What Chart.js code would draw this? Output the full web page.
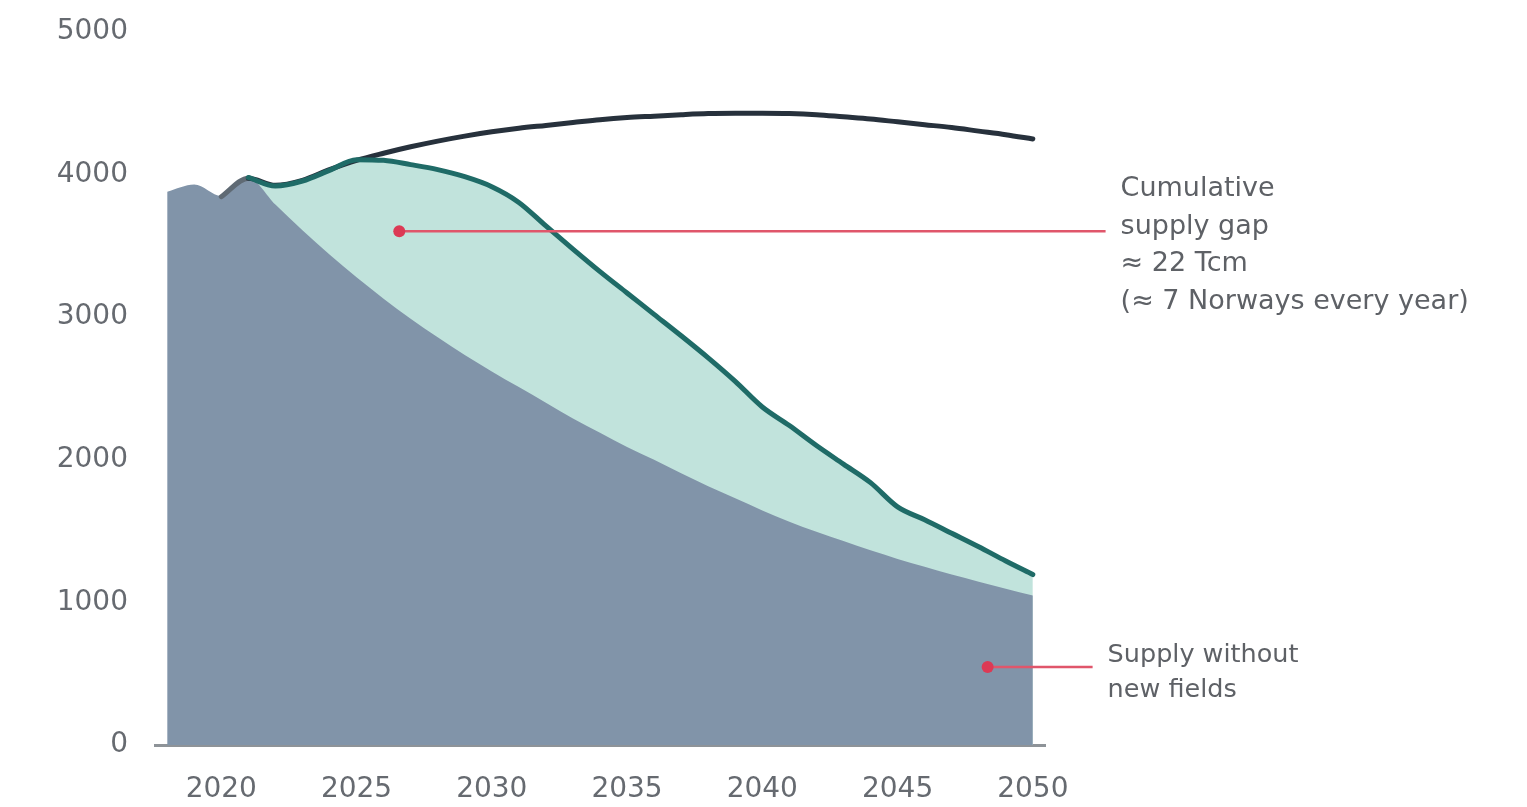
<!DOCTYPE html>
<html>
<head>
<meta charset="utf-8">
<script src="https://cdn.jsdelivr.net/npm/chart.js@4.4.1/dist/chart.umd.min.js"></script>
<style>
  html, body { margin: 0; padding: 0; background: #fff; }
  #wrap { width: 1527px; height: 807px; position: relative; }
</style>
</head>
<body>
<div id="wrap"><canvas id="gasChart"></canvas></div>
<script>
// supply without new fields (grey area), 2018-2050
const baseYears = [2018, 2019, 2020, 2021, 2022, 2023, 2024, 2025, 2026, 2027, 2028,
  2029, 2030, 2031, 2032, 2033, 2034, 2035, 2036, 2037, 2038, 2039, 2040,
  2041, 2042, 2043, 2044, 2045, 2046, 2047, 2048, 2049, 2050];
const baseSupply = [3880, 3930, 3850, 3975, 3790, 3610, 3440, 3280, 3130, 2990, 2860,
  2735, 2620, 2510, 2400, 2290, 2190, 2090, 2000, 1905, 1815, 1730, 1645,
  1565, 1495, 1430, 1365, 1305, 1250, 1195, 1145, 1095, 1048];

// supply incl. new fields (teal line), 2021-2050
const fieldYears = [2021, 2022, 2023, 2024, 2025, 2026, 2027, 2028, 2029, 2030,
  2031, 2032, 2033, 2034, 2035, 2036, 2037, 2038, 2039, 2040,
  2041, 2042, 2043, 2044, 2045, 2046, 2047, 2048, 2049, 2050];
const fieldSupply = [3980, 3920, 3955, 4030, 4105, 4100, 4070, 4035, 3985, 3915,
  3805, 3640, 3478, 3320, 3170, 3020, 2870, 2715, 2550, 2370,
  2240, 2100, 1970, 1840, 1670, 1580, 1485, 1390, 1290, 1195];

// demand (dark line), 2020-2050
const demandYears = [2020, 2021, 2022, 2023, 2024, 2025, 2026, 2027, 2028, 2029, 2030,
  2031, 2032, 2033, 2034, 2035, 2036, 2037, 2038, 2039, 2040,
  2041, 2042, 2043, 2044, 2045, 2046, 2047, 2048, 2049, 2050];
const demand = [3845, 3975, 3925, 3960, 4035, 4100, 4150, 4195, 4235, 4270, 4300,
  4325, 4345, 4365, 4385, 4400, 4410, 4420, 4428, 4430, 4430,
  4428, 4420, 4405, 4390, 4370, 4350, 4330, 4305, 4280, 4250];

const xTicks = [2020, 2025, 2030, 2035, 2040, 2045, 2050];
const yTicks = [0, 1000, 2000, 3000, 4000, 5000];

// callouts: dot position (year, value), end of connector (year), text lines
const gapNoteAt = [2026.58, 3603];
const gapNoteEnd = 2052.69;
const gapNote = ['Cumulative', 'supply gap', '\u2248 22 Tcm', '(\u2248 7 Norways every year)'];
const baseNoteAt = [2048.33, 547];
const baseNoteEnd = 2052.21;
const baseNote = ['Supply without', 'new fields'];

const toPoints = (xs, ys) => xs.map((x, i) => ({ x: x, y: ys[i] }));

const FONT = 'DejaVu Sans';

const callouts = {
    id: 'callouts',
    afterDraw(chart) {
        const { ctx, scales: { x, y } } = chart;
        const notes = [
            { at: gapNoteAt, end: gapNoteEnd, lines: gapNote, size: 27, lh: 37.5, first: -42 },
            { at: baseNoteAt, end: baseNoteEnd, lines: baseNote, size: 25.5, lh: 35, first: -12 }
        ];
        notes.forEach(n => {
            const px = x.getPixelForValue(n.at[0]);
            const py = y.getPixelForValue(n.at[1]);
            const ex = x.getPixelForValue(n.end);
            ctx.save();
            ctx.strokeStyle = '#e0566b';
            ctx.lineWidth = 2.5;
            ctx.beginPath();
            ctx.moveTo(px, py);
            ctx.lineTo(ex, py);
            ctx.stroke();
            ctx.fillStyle = '#dc3a55';
            ctx.beginPath();
            ctx.arc(px, py, 6, 0, Math.PI * 2);
            ctx.fill();
            ctx.fillStyle = '#5e6166';
            ctx.font = n.size + 'px "' + FONT + '"';
            ctx.textAlign = 'left';
            ctx.textBaseline = 'middle';
            n.lines.forEach((t, i) => {
                ctx.fillText(t, ex + 15, py + n.first + i * n.lh);
            });
            ctx.restore();
        });
    }
};

const ctx = document.getElementById('gasChart').getContext('2d');
const gasChart = new Chart(ctx, {
    type: 'line',
    data: {
        datasets: [
            {
                label: 'Supply without new fields',
                data: toPoints(baseYears, baseSupply),
                borderWidth: 0,
                backgroundColor: '#8194a9',
                fill: 'origin',
                cubicInterpolationMode: 'monotone'
            },
            {
                label: 'Supply with new fields',
                data: toPoints(fieldYears, fieldSupply),
                borderColor: '#1f6b67',
                borderWidth: 5,
                backgroundColor: '#c1e3dc',
                fill: 'origin',
                borderCapStyle: 'round',
                cubicInterpolationMode: 'monotone'
            },
            {
                label: 'Demand',
                data: toPoints(demandYears, demand),
                borderColor: '#27313c',
                borderWidth: 5,
                fill: false,
                borderCapStyle: 'round',
                cubicInterpolationMode: 'monotone',
                segment: {
                    borderColor: c => c.p0.parsed.x < 2021 ? '#5f6a74' : undefined
                }
            }
        ]
    },
    options: {
        responsive: true,
        maintainAspectRatio: false,
        animation: false,
        layout: { padding: { left: 0, right: 482, top: 32, bottom: 0 } },
        elements: { point: { radius: 0, hoverRadius: 0 } },
        plugins: {
            legend: { display: false },
            tooltip: { enabled: false },
            filler: { drawTime: 'beforeDatasetsDraw' }
        },
        scales: {
            x: {
                type: 'linear',
                min: 2017.55,
                max: 2050.45,
                afterBuildTicks: s => { s.ticks = xTicks.map(v => ({ value: v })); },
                afterFit: s => { s.height = 62; },
                grid: { display: false, drawTicks: false },
                border: { display: true, color: '#8e9398', width: 3 },
                ticks: {
                    padding: 28,
                    color: '#666a70',
                    autoSkip: false,
                    maxRotation: 0,
                    font: { family: FONT, size: 28 },
                    callback: v => String(v)
                }
            },
            y: {
                min: 0,
                max: 5000,
                afterBuildTicks: s => { s.ticks = yTicks.map(v => ({ value: v })); },
                afterFit: s => {
                    s.width = 155;
                    s.paddingTop = 0;
                    s.paddingBottom = 0;
                },
                grid: { display: false, drawTicks: false },
                border: { display: false },
                ticks: {
                    padding: 27,
                    color: '#666a70',
                    font: { family: FONT, size: 28 },
                    callback: v => String(v)
                }
            }
        }
    },
    plugins: [callouts]
});
</script>
</body>
</html>
